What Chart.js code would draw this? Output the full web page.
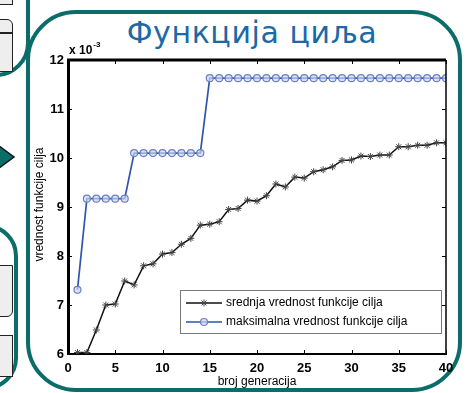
<!DOCTYPE html>
<html>
<head>
<meta charset="utf-8">
<script src="https://cdn.jsdelivr.net/npm/chart.js@4/dist/chart.umd.min.js"></script>
<style>
  body { margin: 0; width: 474px; height: 393px; overflow: hidden; background: #fff; position: relative; font-family: "Liberation Sans", Arial, sans-serif; }
  .abs { position: absolute; box-sizing: border-box; }
  .teal { border: 4px solid #0b6d69; }
  .box { background: #eeeeee; border: 1.5px solid #222; }
  #title { left: 0; width: 504px; top: 16px; text-align: center; font: 30px "DejaVu Sans", Verdana, sans-serif; letter-spacing: 0.6px; color: #1a6aa8; line-height: 34px; }
  canvas { position: absolute; left: 0; top: 0; }
</style>
</head>
<body>
<!-- side bits of the neighbouring slide shapes -->
<div class="abs teal" style="left:-62px;top:-60px;width:92px;height:137px;border-radius:34px;"></div>
<div class="abs box" style="left:-10px;top:-10px;width:23px;height:15px;"></div>
<div class="abs box" style="left:-10px;top:19px;width:23px;height:53px;border-top-right-radius:6px;"></div>
<div class="abs" style="left:-10px;top:32px;width:23px;height:1.5px;background:#222;"></div>
<svg class="abs" style="left:0;top:138px" width="20" height="40">
  <polygon points="-5,5 14,19 -5,33" fill="#0b6d69" stroke="#111" stroke-width="1.5"/>
</svg>
<div class="abs teal" style="left:-62px;top:224px;width:80px;height:166px;border-radius:32px;"></div>
<div class="abs box" style="left:-10px;top:265px;width:23px;height:52px;border-bottom-right-radius:6px;"></div>
<div class="abs box" style="left:-10px;top:335px;width:23px;height:42px;"></div>

<!-- main frame -->
<div class="abs teal" style="left:26px;top:10px;width:436px;height:382px;border-radius:50px;"></div>
<div class="abs" id="title">Функција циља</div>

<canvas id="chart" width="474" height="393"></canvas>

<script>
const generations = [1, 2, 3, 4, 5, 6, 7, 8, 9, 10, 11, 12, 13, 14, 15, 16, 17, 18, 19, 20,
  21, 22, 23, 24, 25, 26, 27, 28, 29, 30, 31, 32, 33, 34, 35, 36, 37, 38, 39, 40];

// x 10^-3
const meanValues = [6.03, 6.03, 6.49, 7.00, 7.02, 7.49, 7.41, 7.80, 7.84, 8.04,
  8.07, 8.24, 8.36, 8.63, 8.65, 8.70, 8.95, 8.97, 9.14, 9.12,
  9.23, 9.47, 9.41, 9.61, 9.59, 9.72, 9.76, 9.82, 9.95, 9.96,
  10.04, 10.03, 10.06, 10.06, 10.23, 10.23, 10.26, 10.26, 10.31, 10.31];

const maxValues = [7.31, 9.17, 9.17, 9.17, 9.17, 9.17, 10.10, 10.10, 10.10, 10.10,
  10.10, 10.10, 10.10, 10.10, 11.63, 11.63, 11.63, 11.63, 11.63, 11.63,
  11.63, 11.63, 11.63, 11.63, 11.63, 11.63, 11.63, 11.63, 11.63, 11.63,
  11.63, 11.63, 11.63, 11.63, 11.63, 11.63, 11.63, 11.63, 11.63, 11.63];

const seriesNames = ["srednja vrednost funkcije cilja", "maksimalna vrednost funkcije cilja"];
const xTitle = "broj generacija";
const yTitle = "vrednost funkcije cilja";

const tickFont = { family: "Liberation Sans", size: 13, weight: "bold" };

/* ── box, inner ticks, titles, legend ── */
const matlabBox = {
  id: "matlabBox",
  afterDraw(chart) {
    const { ctx, chartArea: a, scales: { x, y } } = chart;
    ctx.save();
    ctx.strokeStyle = "#000";
    ctx.lineWidth = 3;
    ctx.beginPath(); ctx.moveTo(a.left - 1, a.top); ctx.lineTo(a.right, a.top); ctx.stroke();
    ctx.lineWidth = 1.5;
    ctx.beginPath(); ctx.moveTo(a.right, a.top); ctx.lineTo(a.right, a.bottom); ctx.stroke();

    // inward ticks on all four sides
    ctx.lineWidth = 1;
    x.ticks.forEach(t => {
      const px = Math.round(x.getPixelForValue(t.value)) + 0.5;
      ctx.beginPath(); ctx.moveTo(px, a.bottom); ctx.lineTo(px, a.bottom - 4);
      ctx.moveTo(px, a.top); ctx.lineTo(px, a.top + 4); ctx.stroke();
    });
    y.ticks.forEach(t => {
      const py = Math.round(y.getPixelForValue(t.value)) + 0.5;
      ctx.beginPath(); ctx.moveTo(a.left, py); ctx.lineTo(a.left + 4, py);
      ctx.moveTo(a.right, py); ctx.lineTo(a.right - 4, py); ctx.stroke();
    });

    // exponent
    ctx.fillStyle = "#000";
    ctx.textBaseline = "alphabetic";
    ctx.textAlign = "left";
    ctx.font = "bold 12px 'Liberation Sans'";
    ctx.fillText("x 10", a.left + 1, a.top - 6);
    const w = ctx.measureText("x 10").width;
    ctx.font = "bold 8px 'Liberation Sans'";
    ctx.fillText("-3", a.left + 2 + w, a.top - 13);

    // axis titles
    ctx.font = "12px 'Liberation Sans'";
    ctx.textAlign = "center";
    ctx.textBaseline = "middle";
    ctx.fillText(xTitle, (a.left + a.right) / 2, a.bottom + 28);
    ctx.save();
    ctx.translate(a.left - 28, y.getPixelForValue(9.05));
    ctx.rotate(-Math.PI / 2);
    ctx.fillText(yTitle, 0, 0);
    ctx.restore();

    // legend
    const lx = 180, ly = 290, lw = 261, lh = 43;
    ctx.fillStyle = "#fff";
    ctx.fillRect(lx, ly, lw, lh);
    ctx.strokeStyle = "#777";
    ctx.lineWidth = 1;
    ctx.strokeRect(lx + 0.5, ly + 0.5, lw, lh);
    chart.data.datasets.forEach((ds, i) => {
      const ry = ly + 13 + i * 19;
      ctx.strokeStyle = ds.borderColor;
      ctx.lineWidth = ds.borderWidth;
      ctx.beginPath(); ctx.moveTo(lx + 6, ry); ctx.lineTo(lx + 42, ry); ctx.stroke();
      ctx.fillStyle = ds.pointBackgroundColor;
      ctx.strokeStyle = ds.pointBorderColor;
      ctx.lineWidth = ds.pointBorderWidth;
      Chart.helpers.drawPoint(ctx, {
        pointStyle: ds.pointStyle, radius: ds.pointRadius, rotation: 0,
        borderWidth: ds.pointBorderWidth
      }, lx + 24, ry);
      ctx.fillStyle = "#000";
      ctx.textAlign = "left";
      ctx.font = "12px 'Liberation Sans'";
      ctx.fillText(ds.label, lx + 46, ry);
    });
    ctx.restore();
  }
};

new Chart(document.getElementById("chart").getContext("2d"), {
  type: "line",
  data: {
    datasets: [
      {
        label: seriesNames[0],
        data: generations.map((g, i) => ({ x: g, y: meanValues[i] })),
        borderColor: "#111", borderWidth: 1.5,
        pointStyle: "star", pointRadius: 3.5, pointBorderWidth: 1,
        pointBorderColor: "#444", pointBackgroundColor: "#444",
        tension: 0
      },
      {
        label: seriesNames[1],
        data: generations.map((g, i) => ({ x: g, y: maxValues[i] })),
        borderColor: "#2f55ad", borderWidth: 1.7,
        pointStyle: "circle", pointRadius: 3.5, pointBorderWidth: 1.2,
        pointBorderColor: "#6a82c4", pointBackgroundColor: "rgba(205,214,236,0.7)",
        tension: 0
      }
    ]
  },
  options: {
    responsive: false, animation: false, devicePixelRatio: 1,
    layout: { padding: { left: 40, top: 60, right: 28, bottom: 0 } },
    plugins: { legend: { display: false }, tooltip: { enabled: false }, title: { display: false } },
    scales: {
      x: {
        type: "linear", min: 0, max: 40,
        ticks: { stepSize: 5, font: tickFont, color: "#000", padding: 7, maxRotation: 0 },
        grid: { drawOnChartArea: false, drawTicks: false },
        border: { display: true, color: "#000", width: 2 },
        afterFit(s) { s.height = 39; }
      },
      y: {
        min: 6, max: 12,
        ticks: { stepSize: 1, font: tickFont, color: "#000", padding: 4 },
        grid: { drawOnChartArea: false, drawTicks: false },
        border: { display: true, color: "#000", width: 3 },
        afterFit(s) { s.width = 28; }
      }
    }
  },
  plugins: [matlabBox]
});
</script>
</body>
</html>
